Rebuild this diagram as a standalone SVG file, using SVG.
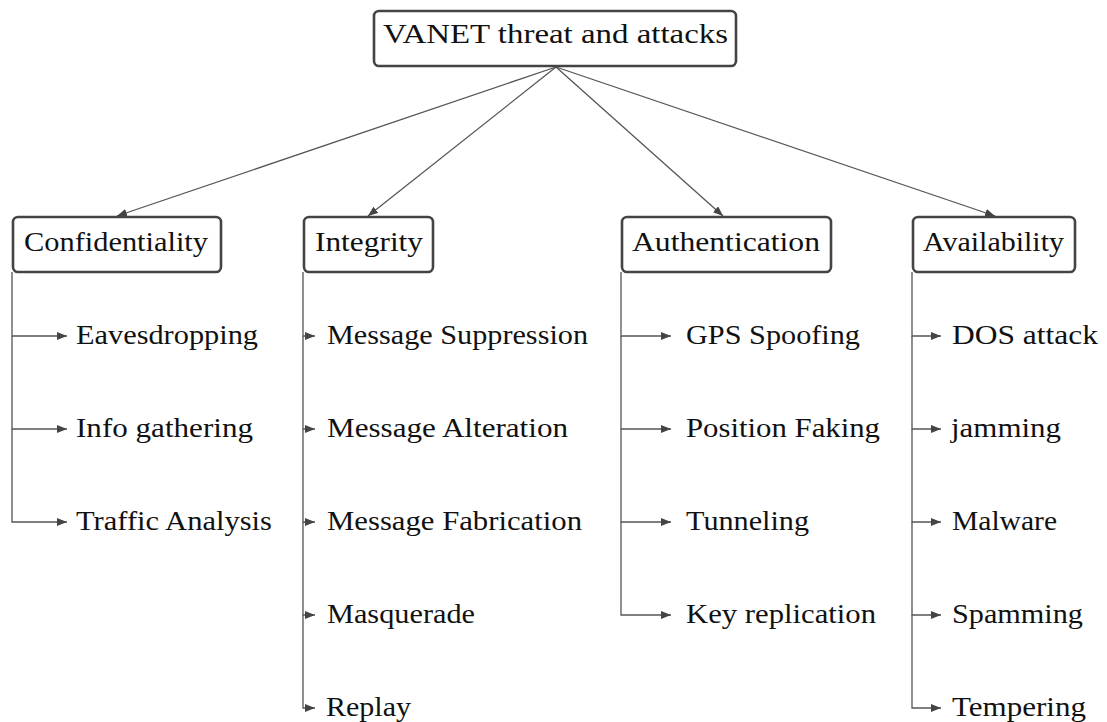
<svg xmlns="http://www.w3.org/2000/svg" width="1107" height="722" viewBox="0 0 1107 722">
<style>
.box{fill:#fff;stroke:#444;stroke-width:2.6}
.t{font-size:27px;fill:#111}
.c{text-anchor:middle}
.ln{fill:none;stroke:#555;stroke-width:1.3}
</style>
<defs>
<marker id="ah" markerUnits="userSpaceOnUse" markerWidth="11" markerHeight="9" refX="10" refY="4" orient="auto">
<path d="M0,0 L10,4 L0,8 z" fill="#444"/>
</marker>
</defs>
<rect width="1107" height="722" fill="#fff"/>
<g id="connectors" class="ln" marker-end="url(#ah)">
<path d="M556,67 L117,216"/>
<path d="M556,67 L368,216"/>
<path d="M556,67 L723,216"/>
<path d="M556,67 L995,216"/>
<path d="M12,272 V336 H67"/>
<path d="M12,336 V429 H67"/>
<path d="M12,429 V522 H67"/>
<path d="M303,272 V336 H315"/>
<path d="M303,336 V429 H315"/>
<path d="M303,429 V522 H315"/>
<path d="M303,522 V615 H315"/>
<path d="M303,615 V708 H315"/>
<path d="M621,272 V336 H671"/>
<path d="M621,336 V429 H671"/>
<path d="M621,429 V522 H671"/>
<path d="M621,522 V615 H671"/>
<path d="M912,272 V336 H941"/>
<path d="M912,336 V429 H941"/>
<path d="M912,429 V522 H941"/>
<path d="M912,522 V615 H941"/>
<path d="M912,615 V708 H941"/>
</g>
<g font-family="Liberation Serif, DejaVu Serif, serif">
<g id="root"><rect class="box" x="374" y="11" width="362" height="55" rx="5"/><text class="t c" x="555.5" y="43" textLength="345" lengthAdjust="spacingAndGlyphs">VANET threat and attacks</text></g>
<g id="confidentiality"><rect class="box" x="13" y="217" width="208" height="55" rx="5"/><text class="t c" x="116" y="251" textLength="184" lengthAdjust="spacingAndGlyphs">Confidentiality</text></g>
<g id="integrity"><rect class="box" x="304" y="217" width="129" height="55" rx="5"/><text class="t c" x="369" y="251" textLength="108" lengthAdjust="spacingAndGlyphs">Integrity</text></g>
<g id="authentication"><rect class="box" x="622" y="217" width="209" height="55" rx="5"/><text class="t c" x="726" y="251" textLength="188" lengthAdjust="spacingAndGlyphs">Authentication</text></g>
<g id="availability"><rect class="box" x="913" y="217" width="162" height="55" rx="5"/><text class="t c" x="993.5" y="251" textLength="141" lengthAdjust="spacingAndGlyphs">Availability</text></g>
<g id="eavesdropping"><text class="t" x="76" y="344" textLength="182" lengthAdjust="spacingAndGlyphs">Eavesdropping</text></g>
<g id="info-gathering"><text class="t" x="76" y="437" textLength="177" lengthAdjust="spacingAndGlyphs">Info gathering</text></g>
<g id="traffic-analysis"><text class="t" x="76" y="530" textLength="196" lengthAdjust="spacingAndGlyphs">Traffic Analysis</text></g>
<g id="msg-suppression"><text class="t" x="327" y="344" textLength="261" lengthAdjust="spacingAndGlyphs">Message Suppression</text></g>
<g id="msg-alteration"><text class="t" x="327" y="437" textLength="241" lengthAdjust="spacingAndGlyphs">Message Alteration</text></g>
<g id="msg-fabrication"><text class="t" x="327" y="530" textLength="255" lengthAdjust="spacingAndGlyphs">Message Fabrication</text></g>
<g id="masquerade"><text class="t" x="327" y="623" textLength="148" lengthAdjust="spacingAndGlyphs">Masquerade</text></g>
<g id="replay"><text class="t" x="326" y="716" textLength="85" lengthAdjust="spacingAndGlyphs">Replay</text></g>
<g id="gps-spoofing"><text class="t" x="686" y="344" textLength="174" lengthAdjust="spacingAndGlyphs">GPS Spoofing</text></g>
<g id="position-faking"><text class="t" x="686" y="437" textLength="194" lengthAdjust="spacingAndGlyphs">Position Faking</text></g>
<g id="tunneling"><text class="t" x="686" y="530" textLength="123" lengthAdjust="spacingAndGlyphs">Tunneling</text></g>
<g id="key-replication"><text class="t" x="686" y="623" textLength="190" lengthAdjust="spacingAndGlyphs">Key replication</text></g>
<g id="dos-attack"><text class="t" x="952" y="344" textLength="146" lengthAdjust="spacingAndGlyphs">DOS attack</text></g>
<g id="jamming"><text class="t" x="951" y="437" textLength="110" lengthAdjust="spacingAndGlyphs">jamming</text></g>
<g id="malware"><text class="t" x="952" y="530" textLength="105" lengthAdjust="spacingAndGlyphs">Malware</text></g>
<g id="spamming"><text class="t" x="952" y="623" textLength="131" lengthAdjust="spacingAndGlyphs">Spamming</text></g>
<g id="tempering"><text class="t" x="952" y="716" textLength="134" lengthAdjust="spacingAndGlyphs">Tempering</text></g>
</g>
</svg>
